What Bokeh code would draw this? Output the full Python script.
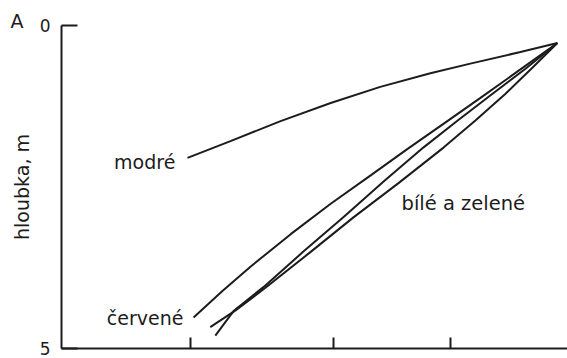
from bokeh.plotting import figure
from bokeh.models import Range1d, FixedTicker, Title
from bokeh.embed import file_html
from bokeh.resources import INLINE
from bokeh.core.properties import value

# depth (m) vs. relative horizontal quantity for light colours
x_modre = [24.9, 33.4, 43.3, 53.2, 63.0, 72.9, 80.8, 90.7, 98.0]
y_modre = [2.05, 1.79, 1.48, 1.20, 0.95, 0.74, 0.59, 0.41, 0.27]

x_cervene = [26.1, 31.8, 37.4, 45.3, 53.2, 61.1, 68.4, 75.9, 82.8, 90.7, 98.0]
y_cervene = [4.52, 4.11, 3.73, 3.23, 2.76, 2.32, 1.91, 1.50, 1.12, 0.68, 0.27]

x_bile = [30.4, 34.0, 39.9, 47.8, 55.7, 63.6, 71.5, 78.3, 84.8, 91.7, 98.0]
y_bile = [4.80, 4.42, 4.05, 3.50, 2.97, 2.42, 1.89, 1.47, 1.08, 0.67, 0.27]

x_zelene = [29.4, 34.4, 40.3, 49.0, 57.7, 66.6, 75.5, 81.8, 87.7, 93.1, 98.0]
y_zelene = [4.67, 4.41, 4.06, 3.52, 2.97, 2.44, 1.89, 1.47, 1.06, 0.65, 0.27]

y_ticks = [0, 5]
y_tick_labels = {0: "0", 5: "5"}
x_ticks = [25.5, 53.8, 76.9]

FONT = "DejaVu Sans"
INK = "#1c1c1c"

p = figure(width=567, height=358, output_backend="svg", toolbar_location=None,
           x_range=Range1d(0, 100), y_range=Range1d(5, 0),
           min_border_left=61, min_border_top=25, min_border_bottom=10,
           min_border_right=0)
p.grid.visible = False
p.outline_line_color = None
p.background_fill_color = "white"
p.border_fill_color = "white"

p.title.text = "A"
p.title.align = "left"
p.title.offset = -51
p.title.text_font = FONT
p.title.text_font_size = "19px"
p.title.text_font_style = "normal"
p.title.text_color = INK
p.title.standoff = -12

xa = p.xaxis[0]
xa.ticker = FixedTicker(ticks=x_ticks)
xa.major_label_text_font_size = "0px"
xa.major_label_text_color = None
xa.major_label_standoff = 0
xa.major_tick_in = 11
xa.major_tick_out = 0
xa.minor_tick_line_color = None
xa.axis_line_width = 2
xa.major_tick_line_width = 2
xa.axis_line_color = INK
xa.major_tick_line_color = INK

ya = p.yaxis[0]
ya.ticker = FixedTicker(ticks=y_ticks)
ya.major_label_overrides = y_tick_labels
ya.major_label_text_font = FONT
ya.major_label_text_font_size = "17px"
ya.major_label_text_color = INK
ya.major_label_standoff = 11
ya.major_tick_in = 16
ya.major_tick_out = 0
ya.minor_tick_line_color = None
ya.axis_line_width = 2
ya.major_tick_line_width = 2
ya.axis_line_color = INK
ya.major_tick_line_color = INK

ylab = Title(text="hloubka, m", align="center", offset=15, standoff=7,
             text_font=FONT, text_font_size="19px", text_font_style="normal",
             text_color=INK)
p.add_layout(ylab, "left")

for xs, ys in [(x_modre, y_modre), (x_cervene, y_cervene),
               (x_bile, y_bile), (x_zelene, y_zelene)]:
    p.line(xs, ys, line_color=INK, line_width=2)

p.text(x=[22.5], y=[2.12], text=["modré"], text_font=value(FONT),
       text_font_size="19px", text_align="right", text_baseline="middle",
       text_color=INK)
p.text(x=[24.1], y=[4.53], text=["červené"], text_font=value(FONT),
       text_font_size="19px", text_align="right", text_baseline="middle",
       text_color=INK)
p.text(x=[67.2], y=[2.76], text=["bílé a zelené"], text_font=value(FONT),
       text_font_size="19.5px", text_align="left", text_baseline="middle",
       text_color=INK)

open("out.html", "w").write(file_html(p, INLINE))
